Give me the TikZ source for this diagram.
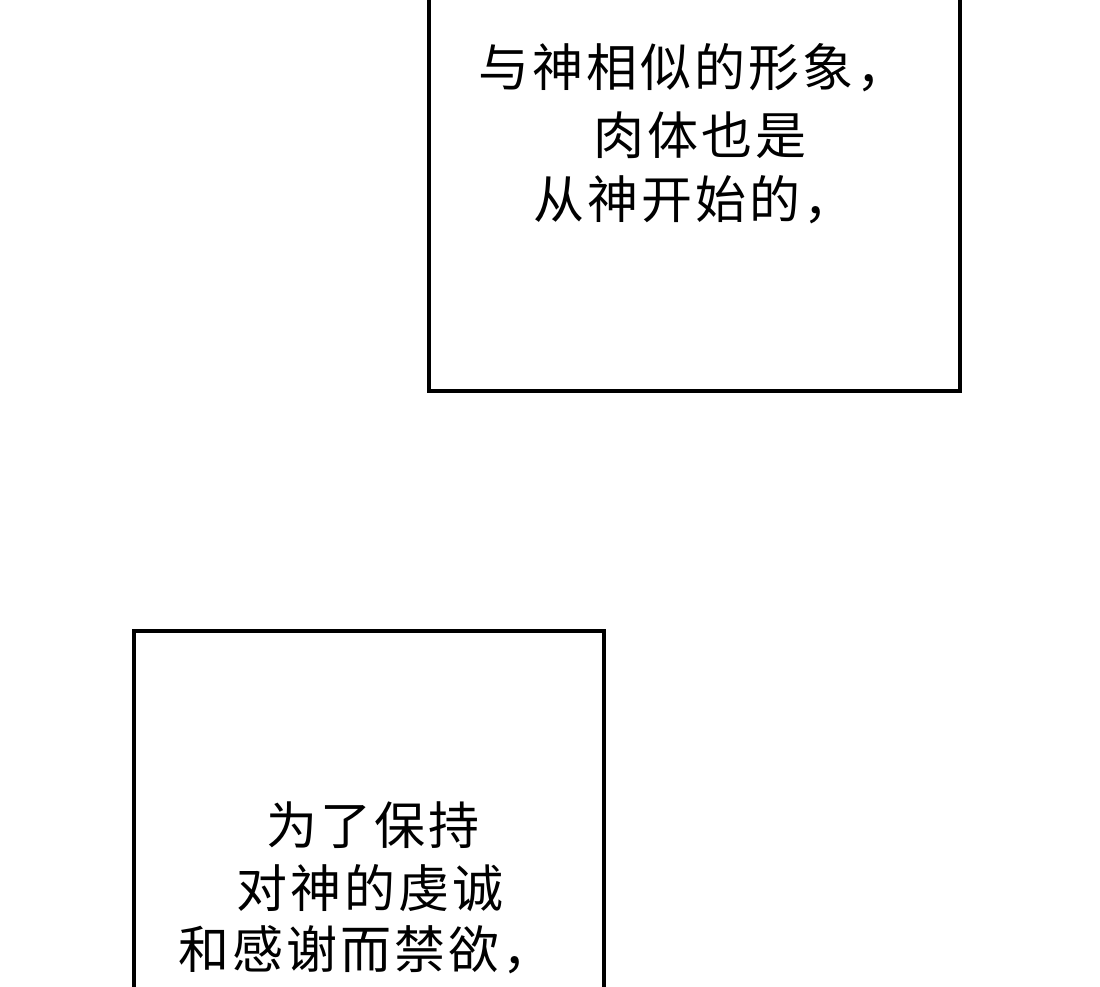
\documentclass[tikz,border=0pt]{standalone}
\usepackage{fontspec}
\newfontfamily\cjk[LetterSpace=6]{Noto Sans CJK SC}
\tikzset{
  panel/.style={line width=4pt, draw=black},
  line/.style={font=\cjk\fontsize{51}{60}\selectfont, anchor=west, inner sep=0pt}
}
\begin{document}
\begin{tikzpicture}[x=1pt,y=-1pt]
\useasboundingbox (0,0) rectangle (1100,987);
\clip (0,0) rectangle (1100,987);
% upper panel
\draw[panel] (429,-20) -- (429,391) -- (960,391) -- (960,-20);
\node[line] (a1) at (478,68) {与神相似的形象，};
\node[line] (a2) at (593,135) {肉体也是};
\node[line] (a3) at (533,200) {从神开始的，};
% lower panel
\draw[panel] (134,1010) -- (134,631) -- (604,631) -- (604,1010);
\node[line] (b1) at (266,825) {为了保持};
\node[line] (b2) at (236,888) {对神的虔诚};
\node[line] (b3) at (178,950) {和感谢而禁欲，};
\end{tikzpicture}
\end{document}
